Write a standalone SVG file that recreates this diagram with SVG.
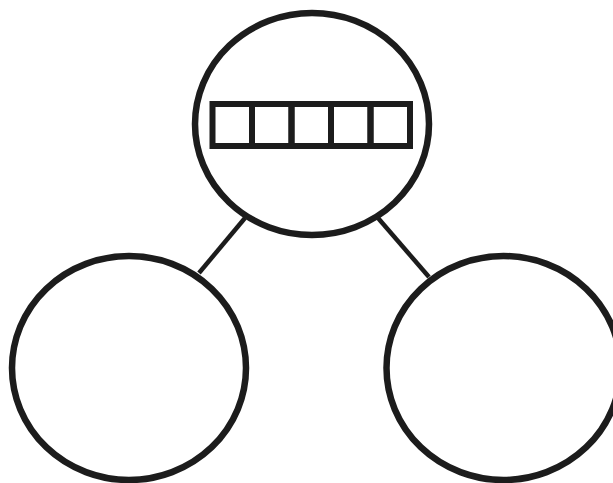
<svg xmlns="http://www.w3.org/2000/svg" width="613" height="483" viewBox="0 0 613 483">
<style>
.node{fill:none;stroke:#1c1c1c;stroke-width:6.5}
.cell{fill:none;stroke:#1c1c1c;stroke-width:6}
.edge{stroke:#1c1c1c;stroke-width:4.5;fill:none}
</style>
<rect width="613" height="483" fill="#fff"/>
<g id="connectors">
<line class="edge" x1="245" y1="218" x2="199" y2="273"/>
<line class="edge" x1="378" y1="218" x2="429" y2="277"/>
</g>
<g id="top">
<ellipse class="node" cx="312" cy="124" rx="117" ry="111"/>
<rect class="cell" x="212.5" y="104" width="39.5" height="42"/>
<rect class="cell" x="252" y="104" width="39.5" height="42"/>
<rect class="cell" x="291.5" y="104" width="39.5" height="42"/>
<rect class="cell" x="331" y="104" width="39.5" height="42"/>
<rect class="cell" x="370.5" y="104" width="39.5" height="42"/>
</g>
<g id="left">
<ellipse class="node" cx="129" cy="368" rx="117" ry="112"/>
</g>
<g id="right">
<ellipse class="node" cx="503.5" cy="368" rx="117" ry="112"/>
</g>
</svg>
